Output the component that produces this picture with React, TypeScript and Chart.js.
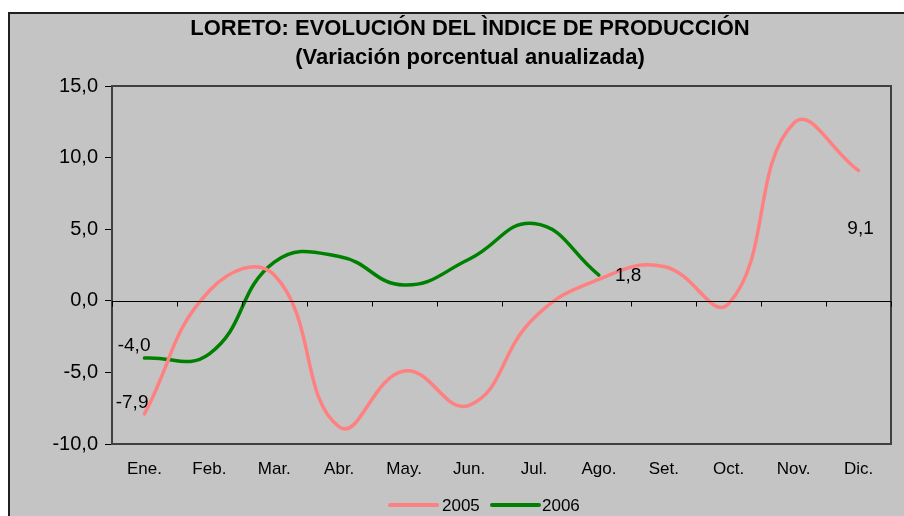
import React, { useEffect, useRef } from "react";
import { Chart, registerables } from "chart.js";

Chart.register(...registerables);

const titleLines = ["LORETO: EVOLUCIÓN DEL ÌNDICE DE PRODUCCIÓN", "(Variación porcentual anualizada)"];
const months = ["Ene.", "Feb.", "Mar.", "Abr.", "May.", "Jun.", "Jul.", "Ago.", "Set.", "Oct.", "Nov.", "Dic."];
const series2005 = [-7.9, 0.7, 1.8, -8.8, -4.9, -7.3, -1.2, 1.5, 2.4, -0.2, 12.4, 9.1];
const series2006 = [-4.0, -3.7, 2.7, 3.1, 1.1, 2.9, 5.4, 1.8];
const yTicks = [-10, -5, 0, 5, 10, 15];
// labelled points: [datasetIndex, pointIndex]
const labelled: [number, number][] = [[0, 0], [1, 0], [1, 7], [0, 11]];

const FONT = "'Liberation Sans', Arial, sans-serif";
const fmt = (v: number) => v.toFixed(1).replace(".", ",");

const decor = {
  id: "decor",
  beforeDraw(chart: any) {
    const { ctx, width, height } = chart;
    ctx.save();
    ctx.fillStyle = "#ffffff";
    ctx.fillRect(0, 0, width, height);
    ctx.fillStyle = "#C4C4C4";
    ctx.fillRect(8, 12, width - 16, height);
    ctx.strokeStyle = "#202020";
    ctx.lineWidth = 2;
    ctx.strokeRect(9, 13, width - 18, height + 10);
    // title
    ctx.fillStyle = "#000";
    ctx.font = `bold 22px ${FONT}`;
    ctx.textAlign = "center";
    ctx.textBaseline = "middle";
    ctx.fillText(titleLines[0], 470, 29);
    ctx.fillText(titleLines[1], 470, 58);
    ctx.restore();
  },
  afterDatasetsDraw(chart: any) {
    const { ctx, chartArea, scales } = chart;
    const y = scales.y;
    ctx.save();
    // plot border
    ctx.strokeStyle = "#404040";
    ctx.lineWidth = 2;
    ctx.strokeRect(chartArea.left, chartArea.top, chartArea.right - chartArea.left, chartArea.bottom - chartArea.top);
    // zero axis with ticks
    const y0 = Math.round(y.getPixelForValue(0)) + 0.5;
    ctx.strokeStyle = "#000";
    ctx.lineWidth = 1;
    ctx.beginPath();
    ctx.moveTo(chartArea.left, y0);
    ctx.lineTo(chartArea.right, y0);
    const step = (chartArea.right - chartArea.left) / months.length;
    for (let i = 0; i <= months.length; i++) {
      const px = Math.round(chartArea.left + i * step) + 0.5;
      ctx.moveTo(px, y0);
      ctx.lineTo(px, y0 + 5);
    }
    ctx.stroke();
    // data labels
    ctx.fillStyle = "#000";
    ctx.font = `19px ${FONT}`;
    ctx.textBaseline = "middle";
    labelled.forEach(([di, pi]) => {
      const pt = chart.getDatasetMeta(di).data[pi];
      const v = chart.data.datasets[di].data[pi];
      const t = fmt(v);
      if (di === 0 && pi === 0) { ctx.textAlign = "right"; ctx.fillText(t, pt.x + 4, pt.y - 11); }
      else if (di === 1 && pi === 0) { ctx.textAlign = "right"; ctx.fillText(t, pt.x + 6, pt.y - 12); }
      else if (di === 1) { ctx.textAlign = "left"; ctx.fillText(t, pt.x + 16, pt.y + 1); }
      else { ctx.textAlign = "center"; ctx.fillText(t, pt.x + 2, pt.y + 58); }
    });
    // legend
    const ly = 505;
    ctx.lineWidth = 4;
    ctx.lineCap = "round";
    ctx.strokeStyle = "#FF8080";
    ctx.beginPath(); ctx.moveTo(390, ly); ctx.lineTo(437, ly); ctx.stroke();
    ctx.strokeStyle = "#008000";
    ctx.beginPath(); ctx.moveTo(492, ly); ctx.lineTo(539, ly); ctx.stroke();
    ctx.font = `17px ${FONT}`;
    ctx.textAlign = "left";
    ctx.fillText("2005", 442, ly + 1);
    ctx.fillText("2006", 542, ly + 1);
    ctx.restore();
  },
};

export default function App() {
  const ref = useRef<HTMLCanvasElement>(null);
  useEffect(() => {
    const chart = new Chart(ref.current!, {
      type: "line",
      data: {
        labels: months,
        datasets: [
          { label: "2005", data: series2005, borderColor: "#FF8080", borderWidth: 3.5, pointRadius: 0, tension: 0.45, fill: false, borderCapStyle: "round" },
          { label: "2006", data: series2006, borderColor: "#008000", borderWidth: 3.5, pointRadius: 0, tension: 0.45, fill: false, borderCapStyle: "round" },
        ],
      },
      options: {
        animation: false,
        responsive: false,
        devicePixelRatio: 1,
        layout: { padding: { left: 52, right: 49, top: 86, bottom: 32 } },
        plugins: { legend: { display: false }, title: { display: false }, tooltip: { enabled: false } },
        scales: {
          x: {
            offset: true,
            grid: { display: false },
            border: { display: false },
            ticks: { color: "#000", font: { family: FONT, size: 17 }, padding: 7, maxRotation: 0, autoSkip: false },
            afterFit: (s: any) => { s.height = 40; },
          },
          y: {
            min: -10,
            max: 15,
            afterBuildTicks: (s: any) => { s.ticks = yTicks.map((v) => ({ value: v })); },
            grid: { drawOnChartArea: false, tickLength: 7, color: "#000" },
            border: { display: true, color: "#404040" },
            ticks: { color: "#000", font: { family: FONT, size: 20 }, padding: 7, callback: (v: any) => fmt(Number(v)) },
            afterFit: (s: any) => { s.width = 60; },
          },
        },
      },
      plugins: [decor],
    });
    return () => chart.destroy();
  }, []);
  return (
    <div style={{ position: "fixed", left: 0, top: 0, width: 904, height: 516, overflow: "hidden" }}>
      <canvas ref={ref} width={940} height={516} style={{ display: "block", width: 940, height: 516 }} />
    </div>
  );
}
